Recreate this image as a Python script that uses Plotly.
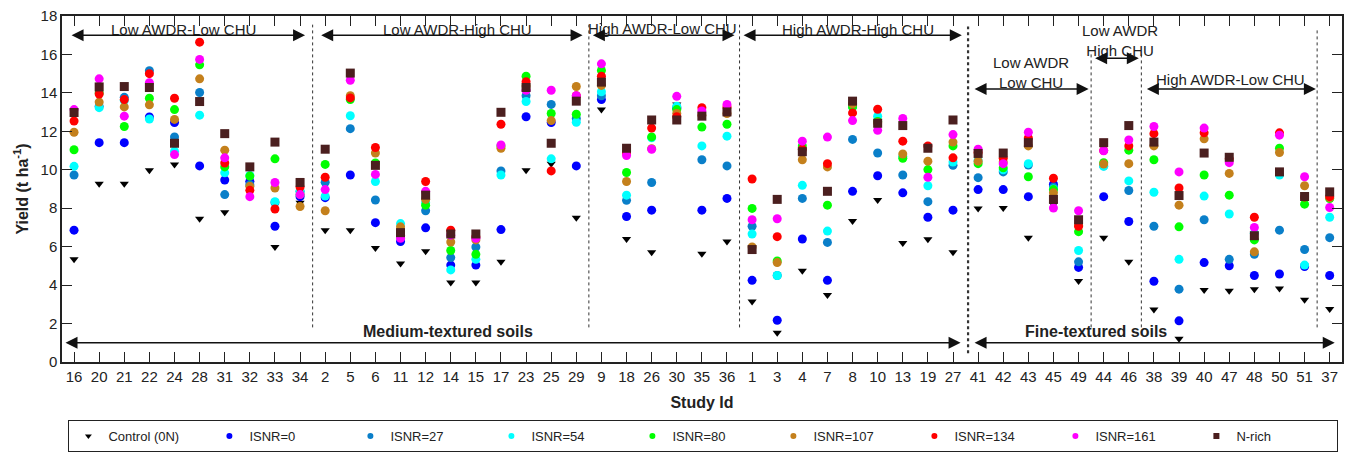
import plotly.graph_objects as go

study_ids = ["16","20","21","22","24","28","31","32","33","34",
             "2","5","6","11","12","14","15","17","23","25","29",
             "9","18","26","30","35","36",
             "1","3","4","7","8","10","13","19","27",
             "41","42","43","45","49",
             "44","46",
             "38","39","40","47","48","50","51",
             "37"]

control = [5.34, 9.27, 9.27, 9.98, 10.28, 7.45, 7.79, 9.3, 5.98, 8.29,
           6.86, 6.86, 5.93, 5.12, 5.76, 4.13, 4.13, 5.22, 9.98, 10.32, 7.5,
           13.13, 6.4, 5.71, 13.4, 5.63, 6.27,
           3.15, 1.52, 4.75, 3.49, 7.33, 8.43, 6.19, 6.39, 5.71,
           7.99, 8.01, 6.47, 8.2, 4.21,
           6.47, 5.21,
           2.73, 1.21, 3.74, 3.71, 3.78, 3.83, 3.24,
           2.76]
isnr0 = [6.86, 11.41, 11.41, 12.75, 12.46, 10.2, 9.47, 9.39, 7.06, 8.6,
         8.55, 9.73, 7.25, 6.27, 6.98, 5.04, 5.04, 6.89, 12.76, 12.46, 10.2,
         13.65, 7.57, 7.9, 13.2, 7.9, 8.51,
         4.25, 2.17, 6.4, 4.25, 8.88, 9.69, 8.8, 7.53, 7.9,
         8.97, 8.97, 8.6, 9.25, 4.92,
         8.6, 7.31,
         4.2, 2.14, 5.17, 5.01, 4.5, 4.58, 4.97,
         4.5]
isnr27 = [9.73, 13.3, 13.77, 15.15, 11.71, 14.02, 8.71, 9.22, 8.3, 8.88,
          9.35, 12.14, 8.43, 6.52, 7.87, 5.43, 5.98, 9.94, 13.85, 13.4, 12.67,
          13.85, 8.41, 9.34, 13.25, 10.52, 10.2,
          7.06, 4.5, 8.51, 6.22, 11.58, 10.87, 9.73, 8.34, 10.23,
          9.59, 9.89, 10.25, 9.1, 5.21,
          10.2, 8.92,
          7.06, 3.79, 7.4, 5.34, 5.6, 6.86, 5.85,
          6.47]
isnr54 = [10.18, 13.23, 13.6, 12.64, 10.96, 12.84, 9.84, 9.7, 8.34, 8.88,
          8.63, 12.81, 9.39, 7.2, 8.29, 4.79, 5.34, 9.73, 13.55, 10.57, 12.47,
          14.06, 8.68, 11.66, 13.3, 11.24, 11.75,
          6.66, 4.5, 9.19, 6.81, 13.27, 12.79, 10.7, 9.17, 10.4,
          10.48, 10.0, 10.32, 9.0, 5.8,
          10.18, 9.42,
          8.83, 5.34, 8.63, 7.7, 6.7, 9.73, 5.04,
          7.53]
isnr80 = [11.04, 14.0, 12.25, 13.72, 13.13, 15.46, 10.15, 9.67, 10.57, 8.71,
          10.28, 13.65, 10.35, 6.78, 8.16, 5.8, 5.6, 11.24, 14.87, 12.93, 12.89,
          15.17, 9.86, 11.71, 13.13, 12.22, 12.37,
          7.99, 5.26, 11.24, 8.16, 13.27, 12.51, 10.6, 10.01, 11.24,
          10.32, 10.1, 9.64, 8.97, 6.78,
          10.37, 11.02,
          10.52, 7.03, 9.73, 8.68, 6.35, 11.12, 8.21,
          8.5]
isnr107 = [11.95, 13.52, 13.27, 13.38, 12.62, 14.73, 11.02, 9.14, 9.05, 8.09,
           7.87, 13.85, 10.87, 7.03, 8.46, 6.24, 6.35, 11.12, 14.36, 12.56, 14.33,
           14.39, 9.39, 11.1, 12.93, 12.84, 12.93,
           5.98, 5.17, 10.52, 10.15, 13.43, 12.45, 10.82, 10.45, 11.44,
           10.45, 10.4, 11.24, 8.8, 7.11,
           10.3, 10.32,
           11.24, 8.16, 11.61, 9.81, 5.73, 10.9, 9.17,
           8.55]
isnr134 = [12.54, 13.94, 13.65, 15.0, 13.72, 16.64, 10.35, 8.93, 7.96, 9.1,
           9.61, 13.74, 11.16, 6.6, 9.39, 6.86, 6.52, 12.37, 14.58, 9.94, 13.85,
           14.87, 10.87, 12.17, 12.76, 13.23, 13.27,
           9.52, 6.52, 11.07, 10.32, 12.96, 13.15, 11.49, 11.24, 10.62,
           10.9, 10.6, 11.66, 9.56, 7.06,
           11.0, 11.24,
           11.88, 9.05, 11.92, 10.57, 7.53, 11.92, 8.58,
           8.6]
isnr161 = [13.13, 14.73, 12.79, 14.53, 10.79, 15.74, 10.62, 8.6, 9.34, 8.71,
           8.97, 14.66, 9.76, 6.44, 8.88, 6.6, 6.44, 11.29, 14.14, 14.14, 13.85,
           15.51, 10.74, 11.07, 13.82, 13.06, 13.4,
           7.4, 7.45, 11.49, 11.7, 12.56, 12.05, 12.67, 9.61, 11.83,
           11.07, 10.32, 11.95, 8.01, 7.87,
           10.99, 11.55,
           12.25, 9.89, 12.17, 10.37, 7.0, 11.8, 9.64,
           8.04]
nrich = [12.98, 14.31, 14.33, 14.28, 11.38, 13.55, 11.88, 10.15, 11.44, 9.34,
         11.07, 15.03, 10.23, 6.73, 8.68, 6.66, 6.66, 12.99, 14.28, 11.38, 13.57,
         14.56, 11.12, 12.59, 12.59, 12.79, 13.01,
         5.85, 8.46, 10.94, 8.88, 13.57, 12.42, 12.3, 11.12, 12.59,
         10.85, 10.87, 11.41, 8.46, 7.4,
         11.41, 12.3,
         11.44, 8.66, 10.87, 10.65, 6.57, 9.89, 8.61,
         8.85]

series_names = ["Control (0N)", "ISNR=0", "ISNR=27", "ISNR=54", "ISNR=80",
                "ISNR=107", "ISNR=134", "ISNR=161", "N-rich"]
series_values = [control, isnr0, isnr27, isnr54, isnr80, isnr107, isnr134, isnr161, nrich]
series_colors = ["#000000", "#0000ff", "#0a7fc9", "#00ffff", "#00ff00",
                 "#c4801c", "#ff0000", "#ff00ff", "#4b1f1f"]
series_symbols = ["triangle-down", "circle", "circle", "circle", "circle",
                  "circle", "circle", "circle", "square"]
series_sizes = [8, 9, 9, 9, 9, 9, 9, 9, 9]

# group labels: (text, x centre, y centre)
group_labels = [
    ("Low AWDR-Low CHU", 4.35, 17.32),
    ("Low AWDR-High CHU", 15.25, 17.32),
    ("High AWDR-Low CHU", 23.45, 17.36),
    ("High AWDR-High CHU", 31.2, 17.32),
    ("Low AWDR<br>Low CHU", 38.1, 15.05),
    ("Low AWDR<br>High CHU", 41.65, 16.7),
    ("High AWDR-Low CHU", 46.05, 14.68),
]
soil_labels = [("Medium-textured soils", 14.9, 1.57), ("Fine-textured soils", 40.7, 1.57)]
# arrows: (x start, x end, y)
arrows = [(-0.16, 9.2, 17.0), (9.78, 20.25, 17.0), (20.6, 26.3, 17.0), (26.6, 35.35, 17.0),
          (35.8, 40.4, 14.2), (40.6, 42.4, 15.8), (42.66, 49.45, 14.2),
          (-0.4, 35.3, 1.0), (35.8, 50.2, 1.0)]
# dotted separators: (x, y0, y1, width)
separators = [(9.5, 1.8, 17.55, 1), (20.5, 1.8, 17.55, 1), (26.5, 1.8, 17.55, 1),
              (35.6, 0.45, 17.45, 2.2), (40.5, 1.8, 16.1, 1), (42.5, 1.8, 16.1, 1),
              (49.5, 1.8, 17.3, 1)]

xidx = list(range(len(study_ids)))
fig = go.Figure()
for name, vals, col, sym, sz in zip(series_names, series_values, series_colors,
                                     series_symbols, series_sizes):
    fig.add_trace(go.Scatter(x=xidx, y=vals, mode="markers", name=name,
                             legendgroup=name, showlegend=False,
                             marker=dict(color=col, symbol=sym, size=sz, line=dict(width=0))))
for name, col, sym in zip(series_names, series_colors, series_symbols):
    fig.add_trace(go.Scatter(x=[None], y=[None], mode="markers", name=name,
                             legendgroup=name, showlegend=True,
                             marker=dict(color=col, symbol=sym, size=6, line=dict(width=0))))

font_main = "Liberation Sans, Arial, sans-serif"
ann = []
for t, x, y in group_labels:
    ann.append(dict(text=t, x=x, y=y, xref="x", yref="y", showarrow=False,
                    font=dict(size=15, color="#222", family=font_main)))
for t, x, y in soil_labels:
    ann.append(dict(text="<b>" + t + "</b>", x=x, y=y, xref="x", yref="y", showarrow=False,
                    font=dict(size=16, color="#222", family=font_main)))
for x0, x1, y in arrows:
    ann.append(dict(text="", x=x1, y=y, ax=x0, ay=y, xref="x", yref="y",
                    axref="x", ayref="y", showarrow=True, arrowside="end+start",
                    arrowhead=2, startarrowhead=2, arrowsize=1.6, startarrowsize=1.6,
                    arrowwidth=1.5, arrowcolor="#111", standoff=0, startstandoff=0))

shapes = []
for x, y0, y1, w in separators:
    shapes.append(dict(type="line", x0=x, x1=x, y0=y0, y1=y1, xref="x", yref="y",
                       line=dict(color="#333", width=w, dash="dot")))

fig.update_layout(
    width=1351, height=459,
    margin=dict(l=62, r=7, t=13, b=90),
    paper_bgcolor="white", plot_bgcolor="white",
    font=dict(family=font_main, color="#222"),
    annotations=ann, shapes=shapes,
    legend=dict(orientation="h", x=0.005, xanchor="left", y=-0.168, yanchor="top",
                bordercolor="#222", borderwidth=1, bgcolor="white",
                entrywidth=96, entrywidthmode="pixels",
                font=dict(size=13, family="Liberation Sans Narrow, " + font_main, color="#222")),
    xaxis=dict(range=[-0.48, 50.49], tickmode="array", tickvals=xidx, ticktext=study_ids,
               ticks="inside", ticklen=10, tickcolor="#222", showline=True, linecolor="#222",
               linewidth=1.5, mirror="ticks", showgrid=False, zeroline=False,
               tickfont=dict(size=15), title=dict(text="<b>Study Id</b>", font=dict(size=16), standoff=13)),
    yaxis=dict(range=[0, 18], dtick=2, ticks="inside", ticklen=10, tickcolor="#222",
               showline=True, linecolor="#222", linewidth=1.5, mirror="ticks",
               showgrid=False, zeroline=False, tickfont=dict(size=15),
               title=dict(text="<b>Yield (t ha<sup>-1</sup>)</b>", font=dict(size=16), standoff=8)),
)

fig.write_html("out.html", config={"displayModeBar": False})
